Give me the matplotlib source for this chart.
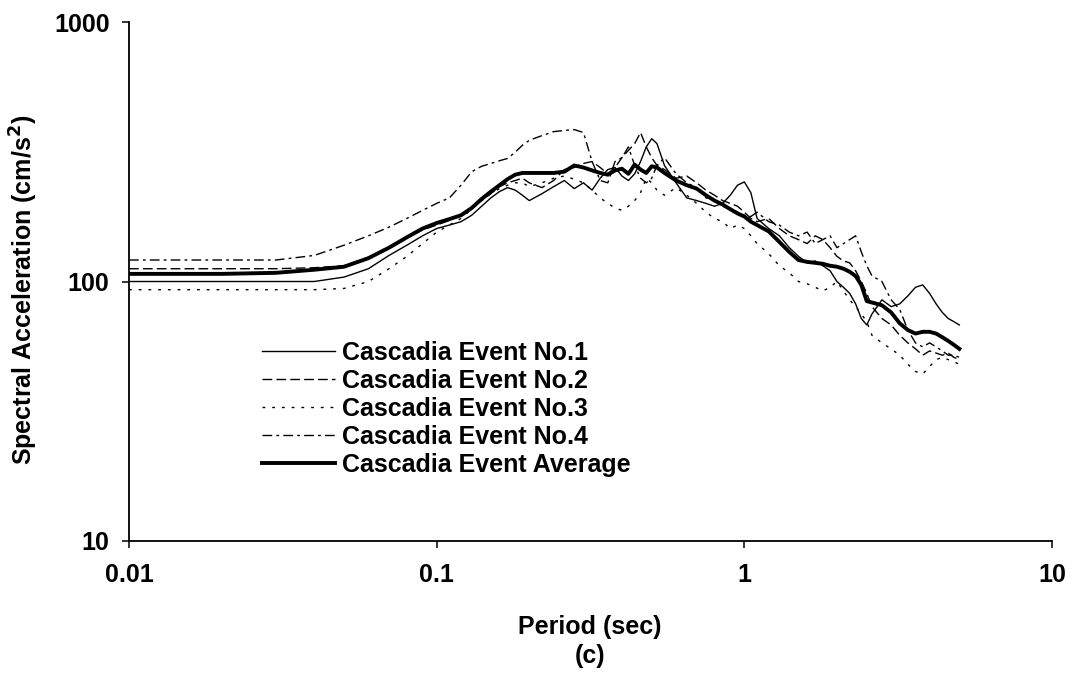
import matplotlib
matplotlib.use("Agg")
import matplotlib.pyplot as plt
from matplotlib import font_manager

# ---------------- data ----------------
period = [0.01, 0.02, 0.03, 0.04, 0.05, 0.06, 0.07, 0.08, 0.09, 0.10,
          0.11, 0.12, 0.13, 0.14, 0.15, 0.16, 0.17, 0.18, 0.19, 0.20,
          0.22, 0.24, 0.26, 0.28, 0.30, 0.32, 0.34, 0.36, 0.38, 0.40,
          0.42, 0.44, 0.46, 0.48, 0.50, 0.52, 0.55, 0.60, 0.65, 0.70,
          0.75, 0.80, 0.85, 0.90, 0.95, 1.00, 1.05, 1.10, 1.20, 1.30,
          1.40, 1.50, 1.60, 1.70, 1.80, 1.90, 2.00, 2.10, 2.20, 2.30,
          2.40, 2.50, 2.60, 2.80, 3.00, 3.20, 3.40, 3.60, 3.80, 4.00,
          4.20, 4.40, 4.60, 4.80, 5.00]

event1 = [100, 100, 100, 100, 104, 112, 126, 138, 150, 160,
          165, 170, 180, 195, 210, 222, 230, 225, 215, 205,
          218, 232, 245, 228, 240, 225, 250, 270, 275, 255,
          245, 260, 290, 330, 355, 340, 280, 240, 210, 205,
          200, 195, 200, 215, 235, 242, 220, 175, 160, 150,
          135, 125, 118, 120, 115, 110, 100, 95, 90, 82,
          72, 68, 75, 85, 80, 82, 88, 95, 97, 90,
          82, 76, 72, 70, 68]

event2 = [112, 112, 112, 113, 115, 124, 136, 148, 158, 165,
          172, 180, 192, 205, 218, 232, 240, 245, 250, 240,
          230, 245, 270, 275, 285, 290, 275, 260, 275, 300,
          320, 340, 375, 330, 300, 280, 270, 250, 255, 240,
          225, 215, 205, 200, 195, 185, 175, 170, 175, 160,
          150, 145, 140, 150, 145, 135, 125, 120, 118, 110,
          100, 90, 80, 72, 68, 62, 58, 55, 52, 54,
          53, 52, 53, 51, 50]

event3 = [93, 93, 93, 93, 94, 100, 112, 125, 140, 155,
          165, 175, 190, 205, 218, 228, 235, 240, 240, 232,
          240, 250, 255, 248, 240, 225, 210, 200, 192, 188,
          195, 205, 220, 250, 240, 225, 215, 230, 215, 200,
          185, 175, 170, 160, 165, 160, 150, 140, 128, 115,
          108, 100, 98, 95, 92, 95, 100, 92, 85, 80,
          75, 70, 62, 58, 55, 52, 48, 45, 44, 47,
          50, 51, 50, 49, 48]

event4 = [121, 121, 121, 126, 138, 150, 162, 175, 188, 200,
          210, 235, 265, 278, 285, 292, 298, 315, 335, 350,
          365, 378, 382, 385, 375, 290, 245, 240, 290, 300,
          330, 280, 250, 240, 250, 280, 300, 260, 240, 230,
          210, 205, 195, 190, 185, 180, 178, 185, 170, 165,
          155, 150, 155, 140, 145, 150, 135, 140, 145, 150,
          130, 115, 105, 100, 85, 78, 65, 58, 56, 58,
          56, 54, 52, 52, 51]

average = [107, 107, 108, 111, 114, 123, 135, 148, 160, 168,
           174, 180, 192, 208, 222, 235, 248, 258, 262, 262,
           262, 262, 265, 280, 275, 268, 262, 258, 268, 272,
           260, 282, 270, 262, 278, 275, 262, 245, 235, 228,
           215, 205, 198, 190, 183, 178, 170, 165, 156, 142,
           130, 121, 119, 118, 117, 115, 114, 112, 109, 105,
           97, 84, 83, 81, 76, 69, 65, 63, 64, 64,
           63, 61, 59, 57, 55]

labels = ["Cascadia Event No.1", "Cascadia Event No.2", "Cascadia Event No.3",
          "Cascadia Event No.4", "Cascadia Event Average"]

# ---------------- fonts ----------------
def pick_font():
    for fam in ["Liberation Sans Narrow", "Liberation Sans", "DejaVu Sans"]:
        try:
            font_manager.findfont(font_manager.FontProperties(family=fam),
                                  fallback_to_default=False)
            return fam
        except Exception:
            continue
    return "DejaVu Sans"

fam = pick_font()
narrow = fam == "Liberation Sans Narrow"
fs = 20 if narrow else 18
plt.rcParams["font.family"] = [fam, "DejaVu Sans"]
plt.rcParams["font.weight"] = "bold"

# ---------------- figure ----------------
fig = plt.figure(figsize=(10.72, 6.77), dpi=100)
ax = fig.add_axes([129 / 1072, 1 - 541 / 677, (1052 - 129) / 1072, (541 - 22) / 677])

ax.plot(period, event1, color="black", lw=1.0, ls="-", label=labels[0])
ax.plot(period, event2, color="black", lw=1.0, ls=(0, (7, 3)), label=labels[1])
ax.plot(period, event3, color="black", lw=1.0, ls=(0, (2, 5)), label=labels[2])
ax.plot(period, event4, color="black", lw=1.0, ls=(0, (7, 3, 2, 3)), label=labels[3])
ax.plot(period, average, color="black", lw=2.8, ls="-", label=labels[4])

ax.set_xscale("log")
ax.set_yscale("log")
ax.set_xlim(0.01, 10)
ax.set_ylim(10, 1000)
ax.set_xticks([0.01, 0.1, 1, 10])
ax.set_xticklabels(["0.01", "0.1", "1", "10"])
ax.set_yticks([10, 100, 1000])
ax.set_yticklabels(["10", "100", "1000"])
ax.minorticks_off()

for s in ["top", "right"]:
    ax.spines[s].set_visible(False)
for s in ["left", "bottom"]:
    ax.spines[s].set_linewidth(1.3)
ax.tick_params(axis="both", direction="out", length=5, width=1.1, labelsize=fs)
ax.tick_params(axis="x", pad=11)
ax.tick_params(axis="y", pad=9)
for lab in ax.get_xticklabels() + ax.get_yticklabels():
    lab.set_fontweight("bold")

fig.text(590 / 1072, 1 - 627 / 677, "Period (sec)", ha="center", va="center",
         fontsize=fs, fontweight="bold")
fig.text(590 / 1072, 1 - 656 / 677, "(c)", ha="center", va="center",
         fontsize=fs, fontweight="bold")
fig.text(24 / 1072, 1 - 290 / 677, "Spectral Acceleration (cm/s$^\\mathbf{2}$)",
         rotation=90, ha="center", va="center", fontsize=fs, fontweight="bold")

leg = ax.legend(loc="upper left", bbox_to_anchor=(133 / 923, 1 - 319 / 519),
                frameon=False, fontsize=fs, handlelength=2.9, handletextpad=0.3,
                labelspacing=0.16, borderaxespad=0, borderpad=0)
for t in leg.get_texts():
    t.set_fontweight("bold")

fig.savefig("out.png", dpi=100)
